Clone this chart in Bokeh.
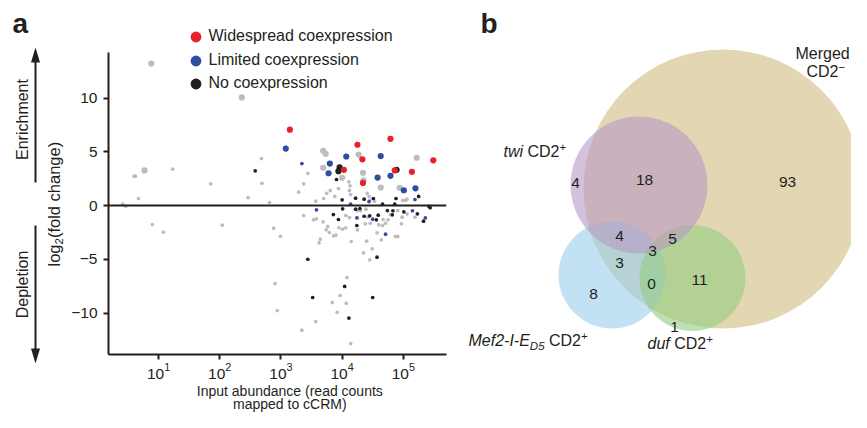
import math
from bokeh.plotting import figure
from bokeh.models import Range1d, FixedTicker, Span, Legend, LegendItem
from bokeh.layouts import row, column
from bokeh.embed import file_html
from bokeh.resources import INLINE
from bokeh.core.properties import value

# ====================== DATA : panel a ======================
# input abundance (read counts mapped to cCRM) and log2(fold change)
widespread_counts = [1400, 17800, 21400, 61700, 10700, 21900, 72400, 138000, 309000]
widespread_log2fc = [7.05, 5.65, 4.3, 6.2, 3.32, 2.1, 3.26, 3.13, 4.2]

limited_sig_counts = [1200, 6300, 6000, 11700, 42700, 38000, 61700, 102000, 158000]
limited_sig_log2fc = [5.3, 3.9, 3.0, 4.56, 4.6, 2.6, 2.76, 1.42, 1.6]
limited_ns_counts = [2200, 13800, 27500, 155000, 3800, 17400, 31600, 51300, 141000, 229000]
limited_ns_log2fc = [3.9, 0.12, 0.37, 0.56, -0.4, -1.14, -1.27, -2.67, -0.49, -1.16]

none_sig_counts = [9100, 8700, 77600]
none_sig_log2fc = [3.56, 3.19, 3.32]
none_ns_counts = [380, 8100, 10000, 16600, 22900, 32400, 45700, 75900, 178000, 275000,
                  7200, 10200, 8700, 16600, 19500, 22900, 28200, 36300, 38900, 55000,
                  67600, 66100, 102000, 170000, 214000, 17400, 72400, 2750, 3300, 11000,
                  12900, 31600, 37200, 263000]
none_ns_log2fc = [3.23, 2.42, 0.53, 0.68, 0.59, 0.65, 0.12, 0.65, 0.84, -0.21,
                  -0.84, -0.31, -1.3, -0.34, -0.28, -1.0, -0.96, -1.33, -0.9, -0.47,
                  -0.49, -0.87, -0.59, -0.77, -1.46, -1.86, 0.12, -5.0, -8.56, -7.53,
                  -10.47, -8.56, -4.81, -0.09]

other_sig_counts = [7.6, 230, 5.9, 4900, 5400, 4900, 10000, 18600, 21900, 22400,
                    42700, 166000, 87100]
other_sig_log2fc = [13.2, 10.05, 3.26, 5.09, 4.81, 3.51, 2.58, 4.74, 3.04, 2.33,
                    1.67, 4.44, 1.65]
other_ns_counts = [2.6, 2.9, 4.0, 4.2, 4.7, 17, 71, 7.9, 12, 110,
                   290, 480, 490, 650, 760, 980, 800, 870, 2200, 3700,
                   6900, 8300, 9300, 11700, 12000, 13800,
                   1950, 2350, 2750, 3700, 5000, 5600, 6400, 7600, 8700, 12900,
                   13500, 13200, 13800, 25700, 27500, 28200, 33900, 97700, 107000, 115000,
                   2350, 3400, 3800, 4900, 5800, 5500, 6200, 7200, 7900, 8900,
                   10200, 11500, 4400, 4200, 14100, 11500, 13200, 17800, 20000, 24500,
                   26300, 39800, 46800, 56200, 61700, 81300, 95500, 115000, 155000, 24000,
                   28800, 51300, 45700, 93300, 37200, 74100, 81300, 43700, 25100, 30900,
                   22400, 28200, 17800, 17800]
other_ns_log2fc = [0.12, -0.07, 2.73, 2.73, 0.65, 3.38, 2.02, -1.77, -2.48, -1.83,
                   0.74, 4.37, 2.07, 0.28, -2.11, -2.86, -7.26, -9.77, -11.6, -10.8,
                   -9.02, -9.93, -8.37, -9.09, -6.7, -12.84,
                   1.24, 2.02, 2.98, 0.4, 0.65, 1.14, 1.4, 0.84, 1.58, 2.2,
                   1.83, 1.4, 1.02, 1.14, 0.84, 0.47, 0.4, 0.47, 0.47, 0.59,
                   -0.93, -1.33, -1.24, -1.52, -1.95, -2.26, -2.51, -2.82, -2.76, -2.07,
                   -2.2, -2.07, -3.13, -3.47, -3.35, -0.93, -1.12, -1.18, -0.47, -0.34,
                   -1.09, -1.8, -1.3, -1.33, -0.84, -0.47, -1.09, -0.77, -1.09, -1.7,
                   -1.65, -1.65, -1.86, -1.7, -2.54, -2.88, -2.88, -3.19, -3.32, -4.03,
                   -4.4, -5.05, -0.47, -2.26]

legend_labels = ["Widespread coexpression", "Limited coexpression", "No coexpression"]
x_tick_values = [10, 100, 1000, 10000, 100000]
y_tick_values = [-10, -5, 0, 5, 10]
y_tick_labels = ["\u221210", "\u22125", "0", "5", "10"]
x_label_lines = ["Input abundance (read counts", "mapped to cCRM)"]

# ====================== DATA : panel b ======================
venn_region_names = ["twi only", "twi & merged", "merged only", "twi & Mef2 & merged",
                     "twi & duf & merged", "all four", "Mef2 & merged",
                     "Mef2 & duf & merged", "duf & merged", "Mef2 only", "duf only"]
venn_region_counts = [4, 18, 93, 4, 5, 3, 3, 0, 11, 8, 1]

# ====================== STYLE / LAYOUT ======================
FONT = "Liberation Sans"
INK = "#231f20"
RED = "#e8212b"
BLUE = "#2f4ea2"
BLACK = "#231f20"
GRAY = "#bdbdbd"
BIG, SMALL = 6.2, 3.7
MID = 0.36  # distance baseline -> visual middle, in em

CW = {"t": 278, "w": 722, "i": 222, " ": 278, "C": 722, "D": 722, "2": 556, "+": 584,
      "M": 833, "e": 556, "f": 278, "-": 333, "I": 278, "E": 667, "5": 556, "d": 556,
      "u": 556, "r": 333, "g": 556, "l": 222, "o": 556, "(": 333, ")": 333, "c": 500,
      "h": 556, "a": 556, "n": 556, "\u2212": 584}


def tw(s, size):
    return sum(CW.get(ch, 556) for ch in s) * size / 1000.0


def txt(fig, x, y, s, size, style="normal", align="left", angle=0.0):
    """(x, y) is the baseline anchor in pixel units; drawn with a middle anchor."""
    if angle:
        x = x - MID * size
    else:
        y = y - MID * size
    fig.text(x=[x], y=[y], text=[s], angle=angle, text_font=value(FONT),
             text_font_style=style, text_font_size=value(f"{size}px"),
             text_color=INK, text_align=align, text_baseline="middle")


def blank(width, height, xr, yr):
    f = figure(width=width, height=height, x_range=Range1d(*xr), y_range=Range1d(*yr),
               x_axis_location=None, y_axis_location=None, min_border=0,
               output_backend="svg", toolbar_location=None)
    f.outline_line_color = None
    f.grid.visible = False
    return f


# ---------------- left strip (panel letter, arrows, y label) ----------------
ps = blank(66, 412, (0, 66), (412, 0))
txt(ps, 12, 33, "a", 28, style="bold")
ps.text(x=[22, 22], y=[119, 284], text=["Enrichment", "Depletion"], angle=math.pi / 2,
        text_font=value(FONT), text_font_size=value("16px"), text_color=INK,
        text_align="center", text_baseline="middle")
# arrows: shafts + heads (pixel layout)
ps.segment(x0=[35, 35], y0=[182, 225], x1=[35, 35], y1=[58, 352],
           line_color=INK, line_width=2)
ps.patches(xs=[[30.5, 35, 39.5], [30.5, 35, 39.5]], ys=[[62, 47, 62], [348, 363, 348]],
           fill_color=INK, line_color=None)
# rotated y label: log2(fold change)
yy = 266
for s, size, dx in (("log", 16.5, 0), ("2", 11.5, 4), ("(fold change)", 16.5, 0)):
    txt(ps, 59 + dx, yy, s, size, angle=math.pi / 2)
    yy -= tw(s, size)

# ---------------- panel a scatter ----------------
pa = figure(width=384, height=383, x_axis_type="log",
            x_range=Range1d(1.52, 5.08e5), y_range=Range1d(-13.86, 19.07),
            min_border_left=42, min_border_right=4, min_border_top=0,
            min_border_bottom=29, output_backend="svg", toolbar_location=None)
pa.outline_line_color = None
pa.grid.visible = False

xa = pa.xaxis[0]
xa.ticker = FixedTicker(ticks=x_tick_values)
ya = pa.yaxis[0]
ya.ticker = FixedTicker(ticks=y_tick_values)
ya.major_label_overrides = {v: t for v, t in zip(y_tick_values, y_tick_labels)}
ya.bounds = (-13.86, 14.23)
for ax in (xa, ya):
    ax.axis_line_width = 2
    ax.axis_line_color = INK
    ax.major_tick_line_width = 2
    ax.major_tick_line_color = INK
    ax.major_tick_out = 5
    ax.major_tick_in = 0
    ax.minor_tick_line_color = None
    ax.major_label_text_font = FONT
    ax.major_label_text_font_size = "15.5px"
    ax.major_label_text_color = INK
xa.major_label_standoff = 3
ya.major_label_standoff = 6

pa.add_layout(Span(location=0, dimension="width", line_color=INK, line_width=2.2))


def pts(counts, fc, color, size):
    return pa.scatter(counts, fc, size=size, fill_color=color, line_color=None)


pts(other_ns_counts, other_ns_log2fc, GRAY, SMALL)
pts(other_sig_counts, other_sig_log2fc, GRAY, BIG)
pts(none_ns_counts, none_ns_log2fc, BLACK, SMALL)
r_none = pts(none_sig_counts, none_sig_log2fc, BLACK, BIG)
pts(limited_ns_counts, limited_ns_log2fc, BLUE, SMALL)
r_lim = pts(limited_sig_counts, limited_sig_log2fc, BLUE, BIG)
r_wide = pts(widespread_counts, widespread_log2fc, RED, BIG)

# one legend row per entry (rows 23-24 px apart, 27 px glyph box)
for lbl, rend, vy in zip(legend_labels, (r_wide, r_lim, r_none), (304.5, 280.5, 257.5)):
    pa.add_layout(Legend(items=[LegendItem(label=lbl, renderers=[rend])],
                         location=(73.5, vy), glyph_width=27, glyph_height=27,
                         label_height=27, spacing=0, label_standoff=0, padding=0,
                         margin=0, border_line_color=None, background_fill_alpha=0,
                         label_text_font=FONT, label_text_font_size="16px",
                         label_text_color=INK))

# x-axis title strip under the scatter
px = blank(384, 29, (66, 450), (412, 383))
txt(px, 272, 396, x_label_lines[0], 14, align="center")
txt(px, 272, 409, x_label_lines[1], 14, align="center")

# ---------------- panel b (Venn) ----------------
pb = blank(401, 412, (450, 851), (412, 0))

# circle layout (pixel units): merged, Mef2, duf, twi (drawing order)
circles = [((722.5, 188.5), 139.5, "#e3d6b2", 1.0),
           ((611.5, 274.5), 53.5, "#99cfed", 0.6),
           ((692.0, 277.5), 53.0, "#93cd82", 0.6),
           ((638.5, 184.5), 68.5, "#b799c5", 0.6)]
for (cx, cy), r, col, a in circles:
    pb.circle(x=[cx], y=[cy], radius=r, fill_color=col, fill_alpha=a, line_color=None)

# region label anchors (pixel units), in the order of venn_region_counts
region_xy = [(575, 182), (644, 179), (787, 181), (619, 235), (672, 238), (652, 250),
             (619, 262), (651, 283), (699, 279), (593, 293), (674, 326)]
pb.text(x=[p[0] for p in region_xy], y=[p[1] for p in region_xy],
        text=[str(c) for c in venn_region_counts], text_font=value(FONT),
        text_font_size=value("15.5px"), text_color=INK, text_align="center",
        text_baseline="middle")


def runs(x0, base, parts):
    x = x0
    for s, style, size, dy in parts:
        lead = len(s) - len(s.lstrip(" "))
        x += tw(" " * lead, size)
        s = s.lstrip(" ")
        txt(pb, x, base + dy, s, size, style=style)
        x += tw(s, size)


runs(480, 33, [("b", "bold", 28, 0)])
runs(795, 59, [("Merged", "normal", 16, 0)])
runs(806, 77, [("CD2", "normal", 16, 0), ("\u2212", "normal", 11.5, -6)])
runs(503, 157, [("twi", "italic", 16, 0), (" CD2", "normal", 16, 0),
                ("+", "normal", 11.5, -6)])
runs(468, 346, [("Mef2-I-E", "italic", 16, 0), ("D5", "italic", 11.5, 4),
                (" CD2", "normal", 16, 0), ("+", "normal", 11.5, -6)])
runs(647, 349, [("duf", "italic", 16, 0), (" CD2", "normal", 16, 0),
                ("+", "normal", 11.5, -6)])

layout = row(ps, column(pa, px), pb)
open("out.html", "w").write(file_html(layout, INLINE))
